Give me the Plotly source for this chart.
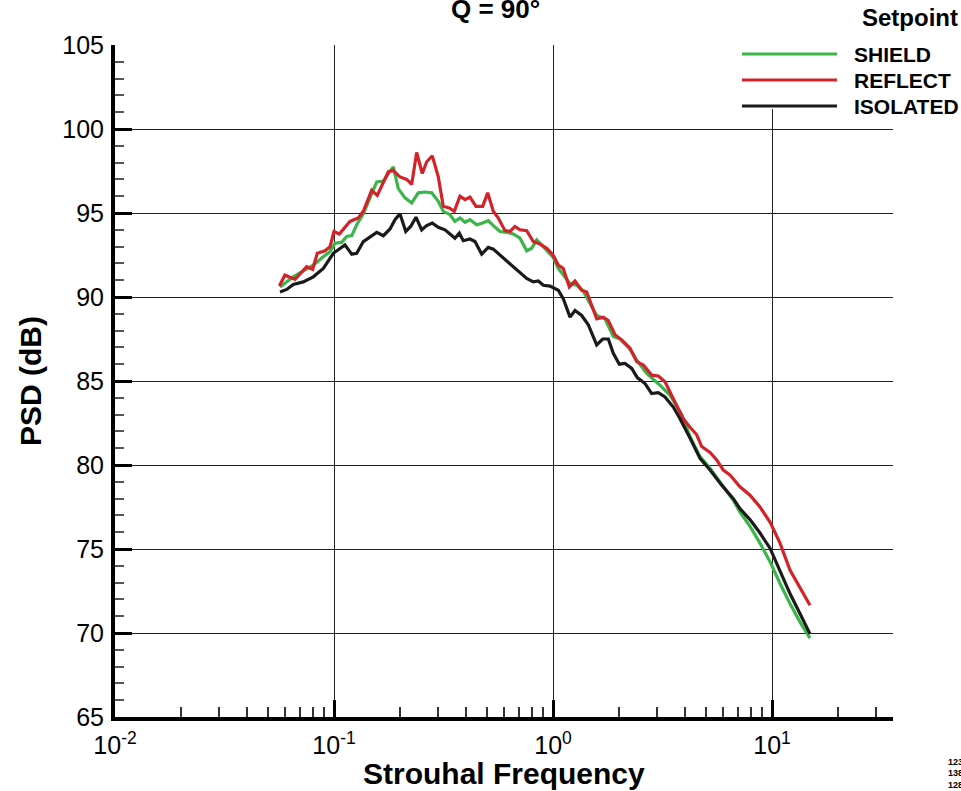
import plotly.graph_objects as go

# ---------------- data ----------------
shield_st = [0.0567, 0.0652, 0.0724, 0.0804, 0.0894, 0.0959, 0.1011, 0.1084, 0.1143, 0.1205,
             0.1270, 0.1361, 0.1460, 0.1567, 0.1680, 0.1770, 0.1866, 0.1966, 0.2110, 0.2263,
             0.2426, 0.2603, 0.2793, 0.2994, 0.3155, 0.3385, 0.3568, 0.3761, 0.3965, 0.4178,
             0.4483, 0.4775, 0.5063, 0.5339, 0.5728, 0.6144, 0.6587, 0.7068, 0.7583, 0.7993,
             0.8424, 0.8880, 0.9359, 1.003, 1.057, 1.196, 1.283, 1.375, 1.583, 1.727,
             1.885, 2.023, 2.247, 2.411, 2.678, 3.080, 3.422, 3.870, 4.223, 4.690,
             5.212, 5.994, 6.658, 7.142, 7.935, 8.815, 9.792, 10.88, 12.08, 13.43, 14.91]
shield_db = [90.6, 91.2, 91.55, 91.9, 92.4, 92.7, 93.2, 93.25, 93.6, 93.65,
             94.3, 94.95, 95.9, 96.85, 96.9, 97.35, 97.75, 96.45, 95.9, 95.6,
             96.2, 96.25, 96.2, 95.7, 95.1, 94.9, 94.5, 94.7, 94.45, 94.6,
             94.3, 94.4, 94.55, 94.25, 93.9, 93.85, 93.75, 93.5, 92.75, 92.9,
             93.4, 93.1, 92.8, 92.35, 91.7, 90.8, 90.7, 90.35, 88.9, 88.7,
             87.65, 87.5, 86.9, 86.25, 85.45, 84.75, 84.15, 83.0, 81.7, 80.5,
             79.8, 78.7, 77.9, 77.2, 76.35, 75.35, 74.25, 72.95, 71.75, 70.65, 69.7]

reflect_st = [0.0563, 0.0597, 0.0664, 0.0750, 0.0799, 0.0839, 0.0910, 0.0959, 0.1000, 0.1057,
              0.1183, 0.1291, 0.1361, 0.1486, 0.1576, 0.1770, 0.1854, 0.2001, 0.2148, 0.2263,
              0.2385, 0.2530, 0.2650, 0.2811, 0.2994, 0.3155, 0.3360, 0.3542, 0.3761, 0.3965,
              0.4178, 0.4450, 0.4775, 0.5031, 0.5339, 0.5626, 0.6036, 0.6362, 0.6705, 0.7068,
              0.7583, 0.8129, 0.8722, 0.9359, 1.000, 1.057, 1.114, 1.187, 1.260, 1.352,
              1.425, 1.583, 1.697, 1.789, 1.919, 2.060, 2.247, 2.411, 2.585, 2.823,
              3.026, 3.246, 3.542, 3.936, 4.223, 4.531, 4.775, 5.212, 5.592, 5.994,
              6.430, 7.142, 7.935, 8.815, 9.792, 10.88, 12.08, 13.43, 14.91]
reflect_db = [90.65, 91.3, 91.05, 91.8, 91.65, 92.6, 92.75, 93.0, 93.9, 93.75,
              94.5, 94.7, 95.1, 96.35, 96.05, 97.45, 97.55, 97.15, 97.0, 96.7,
              98.6, 97.35, 98.05, 98.4, 97.15, 95.4, 95.3, 95.1, 96.0, 95.8,
              95.95, 95.4, 95.4, 96.2, 95.1, 94.7, 93.95, 93.9, 94.2, 94.0,
              93.95, 93.3, 93.15, 92.9, 92.5, 91.9, 91.7, 90.6, 90.95, 90.4,
              90.3, 88.7, 88.8, 88.6, 87.75, 87.45, 86.95, 86.15, 85.95, 85.35,
              85.3, 84.95, 83.95, 82.75, 82.25, 81.8, 81.1, 80.75, 80.3, 79.7,
              79.4, 78.7, 78.2, 77.5, 76.6, 75.35, 73.75, 72.65, 71.65]

isolated_st = [0.0567, 0.0608, 0.0652, 0.0724, 0.0804, 0.0894, 0.0993, 0.1122, 0.1205, 0.1270,
               0.1361, 0.1460, 0.1567, 0.1680, 0.1802, 0.1899, 0.2001, 0.2126, 0.2239, 0.2368,
               0.2514, 0.2650, 0.2811, 0.2994, 0.3212, 0.3385, 0.3568, 0.3734, 0.3894, 0.4178,
               0.4404, 0.4725, 0.5063, 0.5339, 0.5728, 0.6144, 0.6587, 0.7068, 0.7583, 0.8129,
               0.8567, 0.9032, 0.9690, 1.057, 1.114, 1.196, 1.260, 1.352, 1.449, 1.583,
               1.686, 1.789, 1.885, 2.008, 2.132, 2.288, 2.426, 2.631, 2.823, 3.026,
               3.246, 3.542, 3.802, 4.223, 4.690, 5.212, 5.893, 6.658, 7.142, 7.935,
               8.815, 9.792, 10.88, 12.08, 13.43, 14.91]
isolated_db = [90.3, 90.45, 90.75, 90.9, 91.2, 91.7, 92.6, 93.1, 92.55, 92.6,
               93.3, 93.6, 93.85, 93.65, 94.05, 94.6, 94.95, 93.9, 94.2, 94.75,
               94.0, 94.25, 94.4, 94.15, 94.0, 93.75, 93.5, 93.8, 93.35, 93.45,
               93.3, 92.55, 92.95, 92.85, 92.5, 92.15, 91.85, 91.5, 91.1, 90.9,
               90.95, 90.7, 90.65, 90.4, 89.9, 88.8, 89.2, 88.9, 88.35, 87.15,
               87.5, 87.5, 86.65, 86.0, 86.05, 85.75, 85.2, 84.85, 84.25, 84.3,
               84.05, 83.45, 82.75, 81.6, 80.4, 79.7, 78.8, 78.0, 77.4, 76.75,
               75.95, 75.05, 73.65, 72.35, 71.15, 69.95]

series_names = ["SHIELD", "REFLECT", "ISOLATED"]
series_colors = ["#3BB54A", "#D2232A", "#1A1A1A"]

x_major = [0.01, 0.1, 1, 10]
x_major_text = ["10<sup>-2</sup>", "10<sup>-1</sup>", "10<sup>0</sup>", "10<sup>1</sup>"]
x_minor = [d * m for d in (0.01, 0.1, 1, 10) for m in range(2, 10)]

title_text = "Q = 90°"
legend_title = "Setpoint"
x_title = "Strouhal Frequency"
y_title = "PSD (dB)"
corner_notes = ["123", "138", "128"]

FONT = "Liberation Sans, Arial, Helvetica, sans-serif"

fig = go.Figure()
data = [(shield_st, shield_db), (reflect_st, reflect_db), (isolated_st, isolated_db)]
for (xs, ys), name, col in zip(data, series_names, series_colors):
    fig.add_trace(go.Scatter(x=xs, y=ys, mode="lines", name=name,
                             line=dict(color=col, width=3.2), showlegend=False))

fig.update_layout(
    width=961, height=791,
    margin=dict(l=115, r=68, t=45, b=74, pad=0),
    paper_bgcolor="white", plot_bgcolor="white",
    font=dict(family=FONT, color="black"),
)

fig.update_xaxes(
    type="log", range=[-2, 1.5525],
    tickvals=x_major, ticktext=x_major_text,
    ticks="inside", ticklen=17, tickwidth=3, tickcolor="black",
    tickfont=dict(size=25, family=FONT),
    ticklabelstandoff=3,
    showline=True, linewidth=4, linecolor="black",
    showgrid=True, gridcolor="#222222", gridwidth=1.3,
    zeroline=False,
    minor=dict(tickvals=x_minor, ticks="inside", ticklen=10, tickwidth=1.5,
               tickcolor="#333333", showgrid=False),
)
fig.update_yaxes(
    range=[65, 105], tick0=65, dtick=5,
    ticks="inside", ticklen=17, tickwidth=3, tickcolor="black",
    tickfont=dict(size=25, family=FONT),
    ticklabelstandoff=2,
    showline=True, linewidth=4, linecolor="black",
    showgrid=True, gridcolor="#222222", gridwidth=1.3,
    zeroline=False,
    minor=dict(dtick=1, ticks="inside", ticklen=9, tickwidth=1.5,
               tickcolor="#555555", showgrid=False),
)

# legend box (custom, to match long line samples)
fig.add_shape(type="rect", xref="paper", yref="paper", layer="above",
              x0=0.8033, x1=1.10, y0=0.9048, y1=1.08,
              fillcolor="white", line=dict(width=0))
leg_y = [0.9866, 0.9479, 0.9092]
for name, col, yy in zip(series_names, series_colors, leg_y):
    fig.add_shape(type="line", xref="paper", yref="paper", layer="above",
                  x0=0.8059, x1=0.928, y0=yy, y1=yy,
                  line=dict(color=col, width=3.2))
    fig.add_annotation(xref="paper", yref="paper", x=0.9475, y=yy,
                       xanchor="left", yanchor="middle", showarrow=False,
                       text=f"<b>{name}</b>", font=dict(size=21, family=FONT))
fig.add_annotation(xref="paper", yref="paper", x=1.0219, y=1.0402,
                   xanchor="center", yanchor="middle", showarrow=False,
                   text=f"<b>{legend_title}</b>", font=dict(size=24, family=FONT))

# title
fig.add_annotation(xref="paper", yref="paper", x=0.4897, y=1.0536,
                   xanchor="center", yanchor="middle", showarrow=False,
                   text=f"<b>{title_text}</b>", font=dict(size=26, family=FONT))
# axis titles
fig.add_annotation(xref="paper", yref="paper", x=0.5, y=-0.0845,
                   xanchor="center", yanchor="middle", showarrow=False,
                   text=f"<b>{x_title}</b>", font=dict(size=30, family=FONT))
fig.add_annotation(xref="paper", yref="paper", x=-0.1093, y=0.5,
                   xanchor="center", yanchor="middle", showarrow=False, textangle=-90,
                   text=f"<b>{y_title}</b>", font=dict(size=30, family=FONT))
# small corner notes (clipped at page edge in the original)
for note, yy in zip(corner_notes, [-0.067, -0.0833, -0.101]):
    fig.add_annotation(xref="paper", yref="paper", x=1.0685, y=yy,
                       xanchor="left", yanchor="middle", showarrow=False,
                       text=f"<b>{note}</b>", font=dict(size=9, family=FONT))

fig.write_html("out.html")
